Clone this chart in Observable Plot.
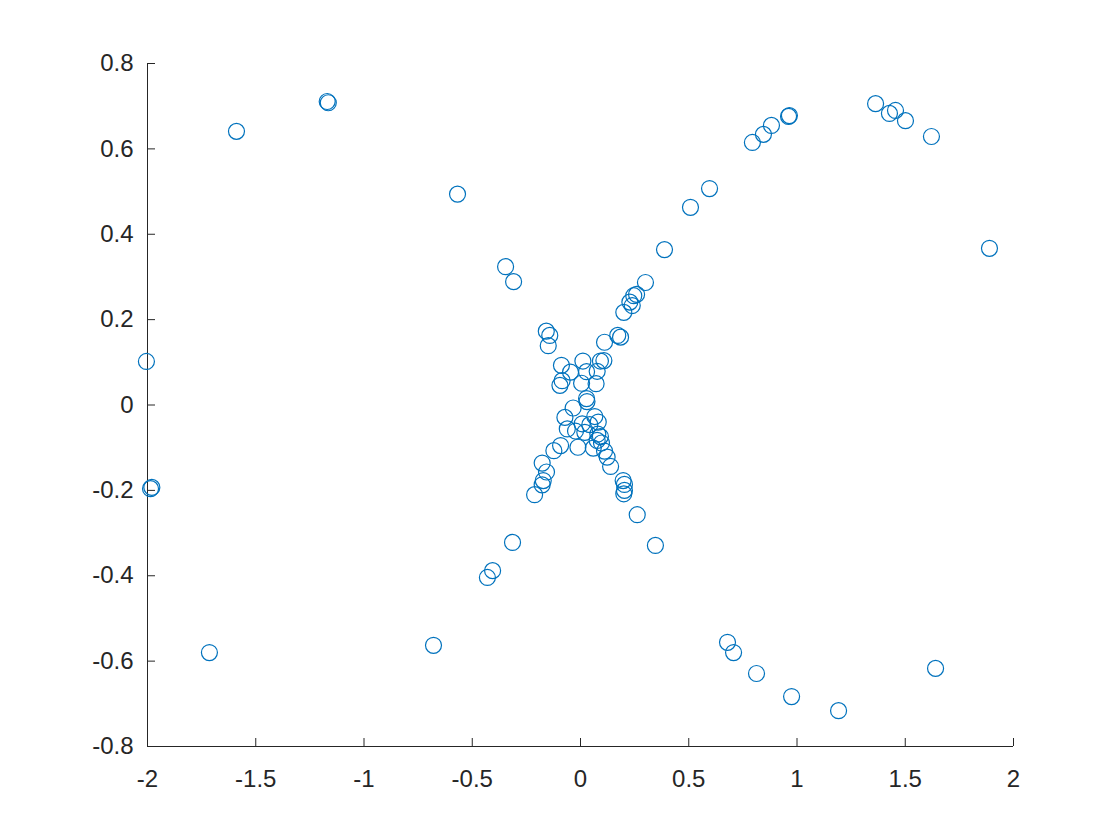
<!DOCTYPE html>
<html>
<head>
<meta charset="utf-8">
<script src="https://cdn.jsdelivr.net/npm/d3@7"></script>
<script src="https://cdn.jsdelivr.net/npm/@observablehq/plot@0.6"></script>
<style>
  html, body { margin: 0; padding: 0; background: #fff; }
  #chart svg { display: block; }
  #chart svg text { font-size: 24px; font-family: 'Liberation Sans', Arial, Helvetica, sans-serif; fill: #262626; }
</style>
</head>
<body>
<div id="chart"></div>
<script>
const xs = [
  -1.170, -1.165, -1.589, -2.005, -1.986, -1.980, -1.714, -0.679, -0.568, -0.346,
  -0.309, -0.430, -0.406, -0.314, -0.212, 0.346, 0.262, 0.388, 0.508, 0.596,
  0.300, 0.259, 0.246, 0.228, 0.239, 0.200, 0.794, 0.845, 0.882, 0.961,
  0.965, 1.363, 1.427, 1.455, 1.501, 1.621, 1.889, 0.679, 0.707, 0.813,
  0.975, 1.192, 1.640,
  -0.158, -0.142, -0.149, 0.172, 0.185, 0.111, 0.108, 0.092, 0.011, -0.088,
  -0.046, 0.028, 0.077, -0.085, -0.095, 0.005, 0.072, 0.028, 0.030, -0.034,
  -0.072, 0.066, 0.008, 0.043, 0.082, -0.061, -0.023, 0.020, 0.080, 0.092,
  0.077, 0.097, -0.092, -0.012, 0.059, 0.111, -0.123, 0.123, 0.139, -0.177,
  -0.157, -0.172, -0.177, 0.197, 0.203, 0.200, 0.203
];
const ys = [
  0.711, 0.708, 0.641, 0.102, -0.196, -0.193, -0.580, -0.563, 0.494, 0.324,
  0.289, -0.404, -0.388, -0.322, -0.210, -0.329, -0.257, 0.364, 0.463, 0.507,
  0.287, 0.259, 0.256, 0.241, 0.233, 0.217, 0.615, 0.634, 0.655, 0.676,
  0.678, 0.706, 0.683, 0.690, 0.666, 0.629, 0.367, -0.556, -0.580, -0.629,
  -0.683, -0.716, -0.617,
  0.173, 0.163, 0.139, 0.163, 0.159, 0.147, 0.104, 0.103, 0.103, 0.093,
  0.077, 0.078, 0.079, 0.057, 0.046, 0.051, 0.050, 0.015, 0.008, -0.007,
  -0.029, -0.027, -0.044, -0.046, -0.040, -0.056, -0.061, -0.064, -0.068, -0.074,
  -0.083, -0.089, -0.095, -0.099, -0.101, -0.108, -0.107, -0.122, -0.144, -0.136,
  -0.157, -0.177, -0.187, -0.177, -0.186, -0.208, -0.200
];
const xTicks = [-2, -1.5, -1, -0.5, 0, 0.5, 1, 1.5, 2];
const yTicks = [-0.8, -0.6, -0.4, -0.2, 0, 0.2, 0.4, 0.6, 0.8];
const xDomain = [-2, 2];
const yDomain = [-0.8, 0.8];

const points = xs.map((x, i) => ({x, y: ys[i]}));
const fmt = d => String(d);

const plot = Plot.plot({
  width: 1120,
  height: 840,
  marginLeft: 147,
  marginRight: 107,
  marginTop: 63,
  marginBottom: 94,
  style: {fontFamily: "'Liberation Sans', Arial, Helvetica, sans-serif", fontSize: "24px", color: "#262626", background: "#fff"},
  x: {domain: xDomain, ticks: xTicks},
  y: {domain: yDomain, ticks: yTicks},
  marks: [
    Plot.axisX({ticks: xTicks, tickFormat: fmt, tickSize: -8, tickPadding: 31, stroke: "#262626", fill: "#262626", fontSize: 24, label: null}),
    Plot.axisY({ticks: yTicks, tickFormat: fmt, tickSize: -8, tickPadding: 22, stroke: "#262626", fill: "#262626", fontSize: 24, label: null}),
    Plot.ruleY([yDomain[0]], {stroke: "#262626", strokeWidth: 1}),
    Plot.ruleX([xDomain[0]], {stroke: "#262626", strokeWidth: 1}),
    Plot.dot(points, {x: "x", y: "y", r: 8, stroke: "#0072BD", strokeWidth: 1.2, fill: "none"})
  ]
});
document.getElementById("chart").appendChild(plot);
</script>
</body>
</html>
